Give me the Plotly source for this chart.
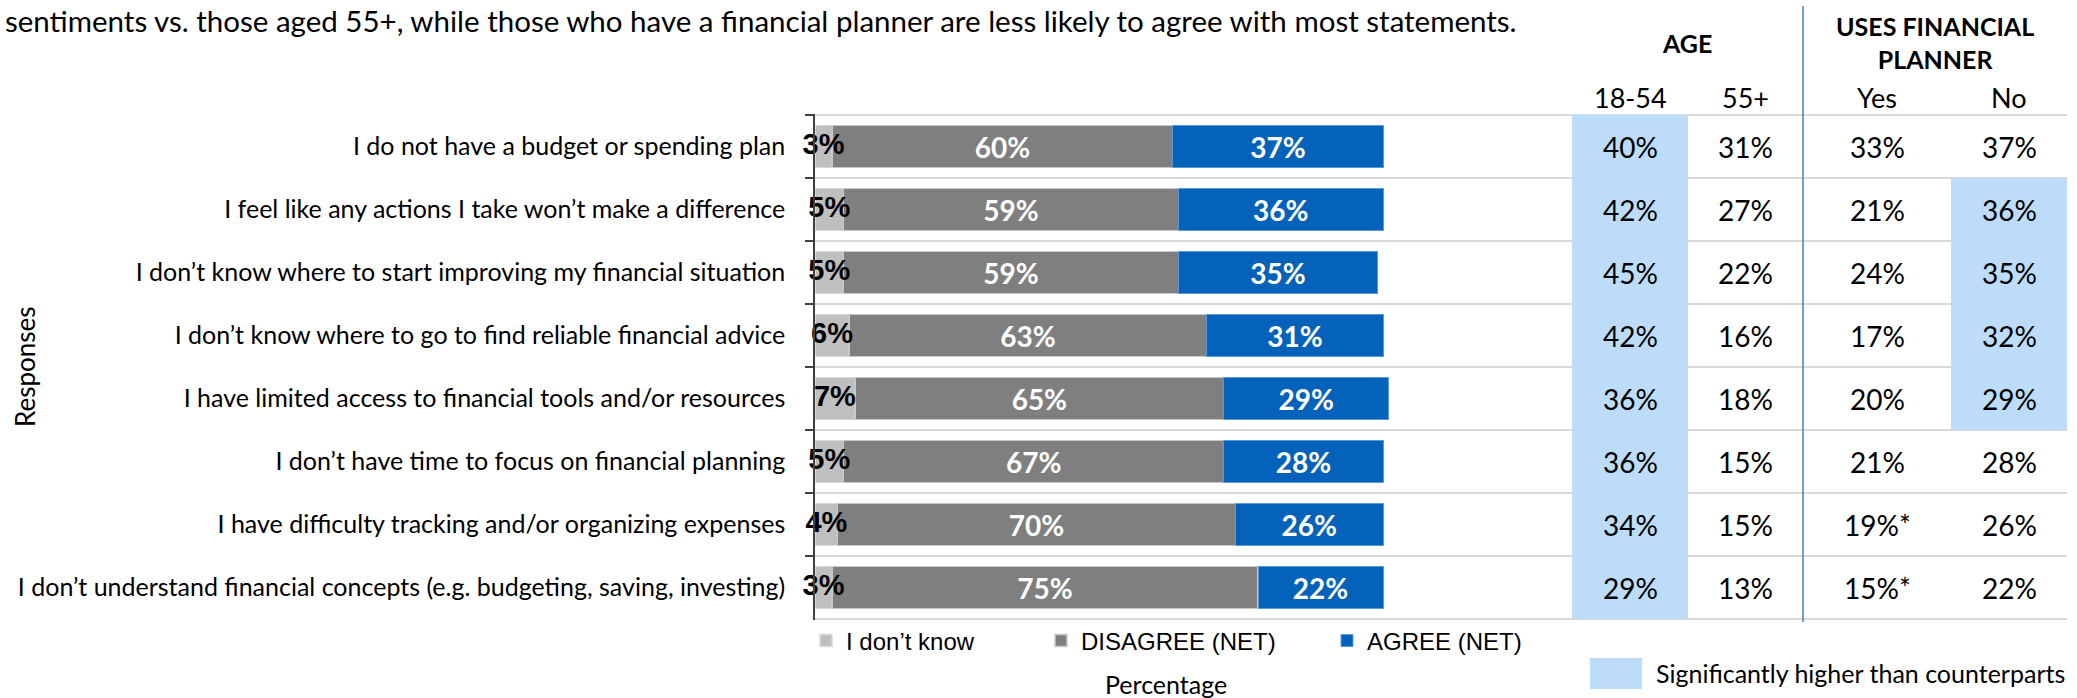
import plotly.graph_objects as go

# ---- data -------------------------------------------------------------
statements = [
    "I do not have a budget or spending plan",
    "I feel like any actions I take won’t make a difference",
    "I don’t know where to start improving my financial situation",
    "I don’t know where to go to find reliable financial advice",
    "I have limited access to financial tools and/or resources",
    "I don’t have time to focus on financial planning",
    "I have difficulty tracking and/or organizing expenses",
    "I don’t understand financial concepts (e.g. budgeting, saving, investing)",
]
dont_know = [3, 5, 5, 6, 7, 5, 4, 3]
disagree = [60, 59, 59, 63, 65, 67, 70, 75]
agree = [37, 36, 35, 31, 29, 28, 26, 22]

table_columns = ["18-54", "55+", "Yes", "No"]
age_18_54 = ["40%", "42%", "45%", "42%", "36%", "36%", "34%", "29%"]
age_55_plus = ["31%", "27%", "22%", "16%", "18%", "15%", "15%", "13%"]
planner_yes = ["33%", "21%", "24%", "17%", "20%", "21%", "19%*", "15%*"]
planner_no = ["37%", "36%", "35%", "32%", "29%", "28%", "26%", "22%"]
# cells that are significantly higher than their counterpart
sig_18_54 = [True, True, True, True, True, True, True, True]
sig_55_plus = [False] * 8
sig_yes = [False] * 8
sig_no = [False, True, True, True, True, False, False, False]

# ---- geometry helpers (pixel -> paper) --------------------------------
W, H = 2077, 698


def px(x):
    return x / W


def py(y):
    return 1 - y / H


CAL = "Lato, Carlito, Calibri, sans-serif"
ARIAL = "Liberation Sans, Arial, sans-serif"
HILITE = "#bddcfa"

# x scale: 0 % at x=815 px, 100 % at x=1383 px
X0_PX, PX_PER_PCT = 815, 5.68
X_MAX = 102

fig = go.Figure()

fig.add_bar(
    y=statements, x=dont_know, orientation="h", name="I don’t know",
    marker=dict(color="#bfbfbf", line=dict(color="#d9d9d9", width=1.5)),
    legend="legend", hoverinfo="x+y",
)
fig.add_bar(
    y=statements, x=disagree, orientation="h", name="DISAGREE (NET)",
    marker=dict(color="#7f7f7f", line=dict(color="#c9c9c9", width=1.5)),
    texttemplate="%{x}%", textposition="inside", insidetextanchor="middle",
    constraintext="none",
    textfont=dict(family=CAL, size=28, color="white", weight="bold"),
    legend="legend2", hoverinfo="x+y",
)
fig.add_bar(
    y=statements, x=agree, orientation="h", name="AGREE (NET)",
    marker=dict(color="#0562ba", line=dict(color="#5a9ad6", width=1)),
    texttemplate="%{x}%", textposition="inside", insidetextanchor="middle",
    constraintext="none",
    textfont=dict(family=CAL, size=28, color="white", weight="bold"),
    legend="legend3", hoverinfo="x+y",
)
# labels for the thin "I don't know" segments, centred on each segment
fig.add_scatter(
    y=statements, x=[v / 2 for v in dont_know], mode="text",
    text=[f"{v}%" for v in dont_know],
    textfont=dict(family=ARIAL, size=29, color="black", weight="bold"),
    showlegend=False, cliponaxis=False, hoverinfo="skip",
)

shapes = []
annotations = []

# row separators running under the chart and the table
for k in range(len(statements) + 1):
    shapes.append(dict(
        type="line", xref="paper", yref="y",
        x0=px(815), x1=px(2067), y0=k - 0.5, y1=k - 0.5,
        line=dict(color="#d9d9d9", width=2), layer="below",
    ))

# table columns: centre x, column bounds, values, highlight flags
col_specs = [
    (1630, 1572, 1688, age_18_54, sig_18_54),
    (1745, 1688, 1803, age_55_plus, sig_55_plus),
    (1877, 1803, 1951, planner_yes, sig_yes),
    (2009, 1951, 2067, planner_no, sig_no),
]
for cx, x0, x1, vals, sig in col_specs:
    for i, (v, s) in enumerate(zip(vals, sig)):
        if s:
            shapes.append(dict(
                type="rect", xref="paper", yref="y",
                x0=px(x0), x1=px(x1), y0=i - 0.5, y1=i + 0.5,
                fillcolor=HILITE, line=dict(width=0), layer="below",
            ))
        annotations.append(dict(
            text=v, xref="paper", yref="y", x=px(cx), y=i,
            xanchor="center", yanchor="middle", showarrow=False,
            font=dict(family=CAL, size=28, color="black"),
        ))

# sub-headers
for name, (cx, *_rest) in zip(table_columns, col_specs):
    annotations.append(dict(
        text=name, xref="paper", yref="paper", x=px(cx), y=py(97),
        xanchor="center", yanchor="middle", showarrow=False,
        font=dict(family=CAL, size=27, color="black"),
    ))

# group headers
annotations.append(dict(
    text="AGE", xref="paper", yref="paper", x=px(1687), y=py(43),
    xanchor="center", yanchor="middle", showarrow=False,
    font=dict(family=CAL, size=25, color="black", weight="bold"),
))
annotations.append(dict(
    text="USES FINANCIAL<br>PLANNER", xref="paper", yref="paper",
    x=px(1935), y=py(43), xanchor="center", yanchor="middle",
    showarrow=False, align="center",
    font=dict(family=CAL, size=25, color="black", weight="bold"),
))

# divider between the two groups
shapes.append(dict(
    type="line", xref="paper", yref="paper",
    x0=px(1803), x1=px(1803), y0=py(6), y1=py(622),
    line=dict(color="#4a7ebb", width=1.5),
))

# significance key
shapes.append(dict(
    type="rect", xref="paper", yref="paper",
    x0=px(1590), x1=px(1642), y0=py(689), y1=py(658),
    fillcolor=HILITE, line=dict(width=0),
))
annotations.append(dict(
    text="Significantly higher than counterparts", xref="paper", yref="paper",
    x=px(1654), y=py(673), xanchor="left", yanchor="middle", showarrow=False,
    font=dict(family=CAL, size=25, color="black"),
))

# heading line
annotations.append(dict(
    text="sentiments vs. those aged 55+, while those who have a financial "
         "planner are less likely to agree with most statements.",
    xref="paper", yref="paper", x=px(3), y=py(20),
    xanchor="left", yanchor="middle", showarrow=False,
    font=dict(family=CAL, size=29.5, color="black"),
))

# axis titles
annotations.append(dict(
    text="Responses", xref="paper", yref="paper", x=px(25), y=py(367),
    xanchor="center", yanchor="middle", showarrow=False, textangle=-90,
    font=dict(family=CAL, size=26, color="black"),
))
annotations.append(dict(
    text="Percentage", xref="paper", yref="paper", x=px(1166), y=py(684),
    xanchor="center", yanchor="middle", showarrow=False,
    font=dict(family=CAL, size=25, color="black"),
))

legend_common = dict(
    orientation="h", xanchor="left", yanchor="middle",
    bgcolor="rgba(0,0,0,0)", borderwidth=0,
    font=dict(family=ARIAL, size=24, color="black"),
)

fig.update_layout(
    width=W, height=H,
    margin=dict(l=0, r=0, t=0, b=0),
    paper_bgcolor="white", plot_bgcolor="white",
    barmode="stack", bargap=0.34,
    showlegend=True,
    legend=dict(x=px(806), y=py(641), **legend_common),
    legend2=dict(x=px(1041), y=py(641), **legend_common),
    legend3=dict(x=px(1327), y=py(641), **legend_common),
    xaxis=dict(
        domain=[px(X0_PX), px(X0_PX + X_MAX * PX_PER_PCT)], range=[0, X_MAX],
        showgrid=False, zeroline=False, showline=False,
        showticklabels=False, ticks="", fixedrange=True,
    ),
    yaxis=dict(
        domain=[py(620), py(114)], autorange="reversed",
        showgrid=False, zeroline=False,
        showline=True, linecolor="#404040", linewidth=1.5,
        ticks="outside", tickson="boundaries", ticklen=8,
        tickcolor="#404040", tickwidth=1.5,
        ticklabelstandoff=23,
        tickfont=dict(family=CAL, size=25, color="black"),
        automargin=False,
    ),
    shapes=shapes,
    annotations=annotations,
    font=dict(family=CAL),
)

fig.write_html("out.html")
